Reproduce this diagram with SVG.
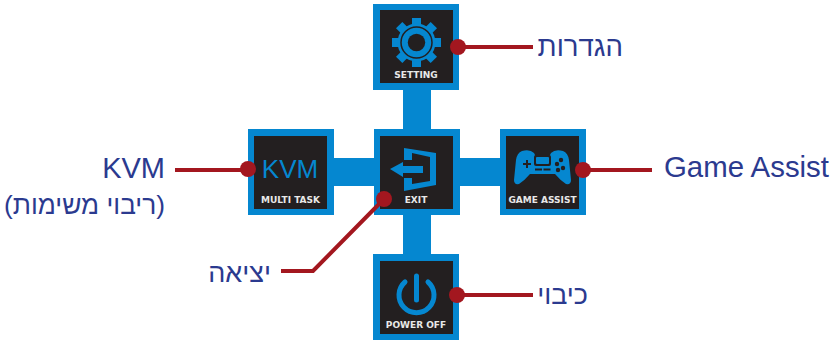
<svg xmlns="http://www.w3.org/2000/svg" width="834" height="341" viewBox="0 0 834 341">
<style>
.o{fill:#0587d0}.i{fill:#231f20}
.t{font:bold 9px "DejaVu Sans",sans-serif;fill:#e8e8e8;text-anchor:middle}
.l{font:27px "Liberation Sans",sans-serif;fill:#2b3a8f}
.w{font-size:29px}
.c{fill:none;stroke:#a3171f;stroke-width:4}
.d{fill:#a3171f}
.s{fill:none;stroke:#0587d0}
.r{direction:rtl;text-anchor:start}
</style>
<rect width="834" height="341" fill="#fff"/>
<g id="bars"><rect class="o" x="403" y="88" width="28" height="170"/><rect class="o" x="332" y="158" width="170" height="28"/></g>
<g id="setting"><rect class="o" x="373" y="4" width="86" height="86"/><rect class="i" x="380" y="10" width="73" height="73"/>
<g class="o"><rect x="412" y="18" width="9" height="49"/><rect x="392" y="38" width="49" height="9"/><rect x="412" y="18" width="9" height="49" transform="rotate(45 416.500 42.500)"/><rect x="392" y="38" width="49" height="9" transform="rotate(45 416.500 42.500)"/></g>
<circle cx="416.500" cy="42.500" r="19" class="o"/><circle cx="416.500" cy="42.500" r="15.500" fill="none" stroke="#231f20" stroke-width="1.500"/><circle cx="416.500" cy="42.500" r="8.700" fill="#231f20"/>
<text class="t" x="416" y="78">SETTING</text></g>
<g id="kvm"><rect class="o" x="248" y="129" width="86" height="86"/><rect class="i" x="254" y="136" width="73" height="73"/>
<text x="290" y="178" font-family="'Liberation Sans',sans-serif" font-size="26" fill="#0587d0" text-anchor="middle">KVM</text>
<text class="t" x="290.500" y="203">MULTI TASK</text></g>
<g id="exit"><rect class="o" x="374" y="129" width="86" height="86"/><rect class="i" x="380" y="136" width="73" height="73"/>
<path class="o" d="M404 148L436 153V185L404 191V178H412V184L430 181V157L412 153V160H404Z"/>
<path class="o" d="M390 169L403 162V166H423V173H403V177Z"/>
<text class="t" x="416" y="203">EXIT</text></g>
<g id="game"><rect class="o" x="500" y="129" width="86" height="86"/><rect class="i" x="506" y="136" width="73" height="73"/>
<path class="o" d="M522 151Q530 149 534 153L536 157H549L551 153Q555 149 563 151Q568 153 569 160L571 180Q571 185 566 184Q560 180 555 174H530Q525 180 519 184Q514 185 514 180L516 160Q517 153 522 151Z"/>
<rect class="i" x="534" y="155" width="17" height="11" rx="2"/><rect class="o" x="536" y="157" width="13" height="7" rx="1"/>
<rect class="i" x="523" y="163" width="8" height="2"/><rect class="i" x="526" y="160" width="2" height="8"/>
<rect class="i" x="535" y="168.500" width="7" height="2"/><rect class="i" x="543.500" y="168.500" width="7" height="2"/>
<circle class="i" cx="561" cy="160" r="2.200"/><circle class="i" cx="557" cy="164" r="2.200"/><circle class="i" cx="563" cy="168" r="2.200"/><circle class="i" cx="558" cy="170" r="2.200"/>
<text class="t" x="542.500" y="203">GAME ASSIST</text></g>
<g id="power"><rect class="o" x="373" y="254" width="86" height="86"/><rect class="i" x="380" y="261" width="73" height="73"/>
<path class="s" d="M405 282A17.500 17.500 0 1 0 428 282" stroke-width="5" stroke-linecap="round"/>
<path class="s" d="M416.500 276V300" stroke-width="5" stroke-linecap="round"/>
<text class="t" x="416" y="328">POWER OFF</text></g>
<g id="connectors">
<path class="c" d="M458 47H533"/><path class="c" d="M248 170H175"/><path class="c" d="M583 170H652"/><path class="c" d="M457 295H533"/><path class="c" d="M384 199L313 271H281"/>
<circle class="d" cx="458" cy="47" r="8"/><circle class="d" cx="248" cy="169" r="8"/><circle class="d" cx="583" cy="170" r="8"/><circle class="d" cx="457" cy="295" r="8"/><circle class="d" cx="384" cy="199" r="8"/>
</g>
<g id="labels">
<text class="l r" x="623" y="56" style="font-size:27.600px">הגדרות</text>
<text class="l w" x="165" y="178" text-anchor="end">KVM</text>
<text class="l r" x="165" y="214" style="font-size:26.300px">(ריבוי משימות)</text>
<text class="l w" x="664" y="177" style="font-size:29.400px">Game Assist</text>
<text class="l r" x="271" y="282">יציאה</text>
<text class="l r" x="588" y="304">כיבוי</text>
</g>
</svg>
